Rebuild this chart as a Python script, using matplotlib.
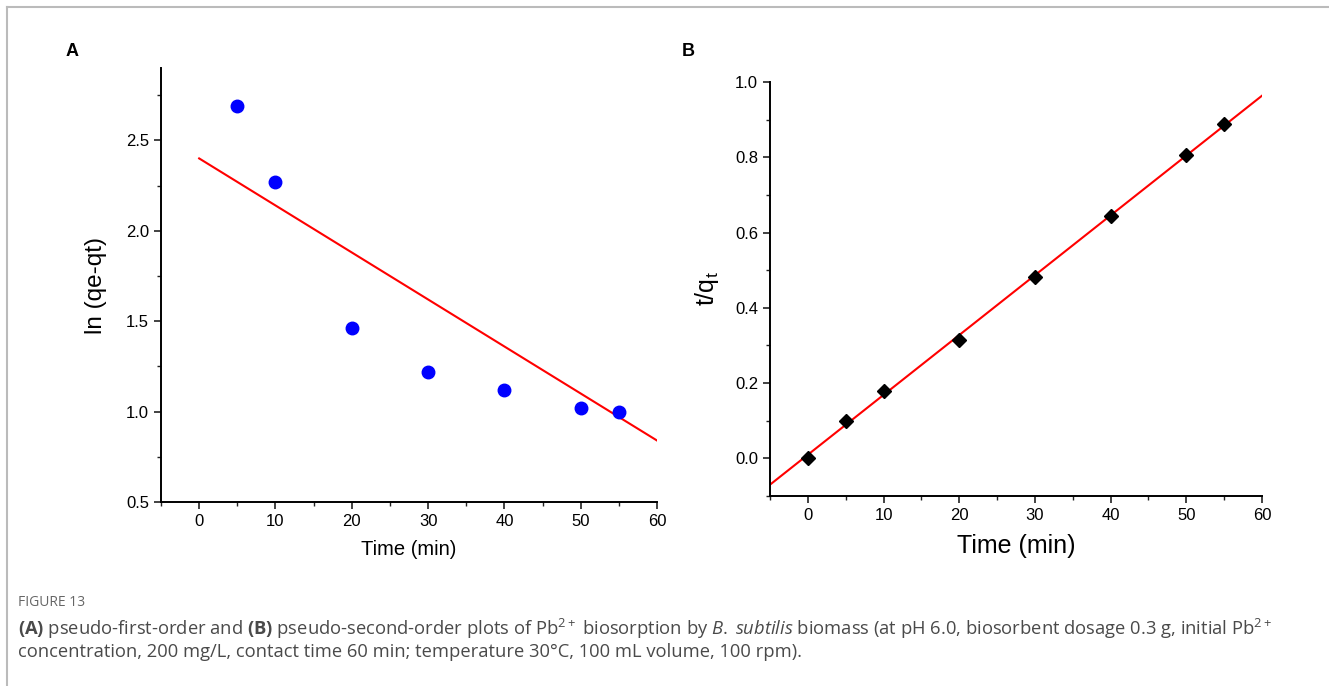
import numpy as np
import matplotlib
matplotlib.use('Agg')
import matplotlib.pyplot as plt
from matplotlib.ticker import MultipleLocator
from matplotlib.lines import Line2D

plt.rcParams['font.family'] = ['Liberation Sans', 'DejaVu Sans']
plt.rcParams['mathtext.fontset'] = 'custom'
plt.rcParams['mathtext.rm'] = 'Open Sans'
plt.rcParams['mathtext.it'] = 'Open Sans:italic'
plt.rcParams['mathtext.bf'] = 'Open Sans:bold'

# panel A: pseudo-first-order
time_a = [5, 10, 20, 30, 40, 50, 55]
ln_qe_qt = [2.69, 2.27, 1.46, 1.22, 1.12, 1.02, 1.00]
fit_a_intercept = 2.40
fit_a_slope = -0.026
fit_a_range = [0, 60]

# panel B: pseudo-second-order
time_b = [0, 5, 10, 20, 30, 40, 50, 55]
t_qt = [0.0, 0.10, 0.18, 0.315, 0.483, 0.645, 0.807, 0.888]
fit_b_intercept = 0.0096
fit_b_slope = 0.0159
fit_b_range = [-5, 60]

x_ticks = [0, 10, 20, 30, 40, 50, 60]

fig = plt.figure(figsize=(13.29, 6.86), dpi=100)

# thin grey frame on top and left
fig.add_artist(Line2D([7/1329, 1], [1-7/686, 1-7/686], color='#bbbbbb', lw=1.5, transform=fig.transFigure))
fig.add_artist(Line2D([7/1329, 7/1329], [0, 1-7/686], color='#bbbbbb', lw=1.5, transform=fig.transFigure))

def style_axes(ax, tsize):
    for s in ['top', 'right']:
        ax.spines[s].set_visible(False)
    for s in ['left', 'bottom']:
        ax.spines[s].set_linewidth(1.4)
    ax.tick_params(which='major', direction='out', length=5, width=1.2, labelsize=tsize, color='#222222')
    ax.tick_params(which='minor', direction='out', length=3, width=1.0, color='#222222')
    ax.set_xticks(x_ticks)
    ax.xaxis.set_minor_locator(MultipleLocator(5))

# ----- A -----
axA = fig.add_axes([161/1329, 1-502/686, (657-161)/1329, (502-68)/686])
style_axes(axA, 12)
xa = np.array(fit_a_range)
axA.plot(xa, fit_a_intercept + fit_a_slope*xa, color='#ff0000', lw=1.5, zorder=2)
axA.plot(time_a, ln_qe_qt, 'o', color='#0000ff', ms=9, zorder=3)
axA.set_xlim(-5, 60)
axA.set_ylim(0.5, 2.9)
axA.set_yticks([0.5, 1.0, 1.5, 2.0, 2.5])
axA.yaxis.set_minor_locator(MultipleLocator(0.25))
axA.set_xlabel('Time (min)', fontsize=14.5, labelpad=8)
axA.set_ylabel('ln (qe-qt)', fontsize=17.5, labelpad=14)
fig.text(72/1329, 1-52/686, 'A', fontsize=13, fontweight='bold', ha='center', va='center')

# ----- B -----
axB = fig.add_axes([770/1329, 1-496/686, (1262-770)/1329, (496-82)/686])
style_axes(axB, 12)
xb = np.array(fit_b_range)
axB.plot(xb, fit_b_intercept + fit_b_slope*xb, color='#ff0000', lw=1.5, zorder=2)
axB.plot(time_b, t_qt, 'D', color='black', ms=7.5, zorder=3)
axB.set_xlim(-5, 60)
axB.set_ylim(-0.1, 1.0)
axB.set_yticks([0.0, 0.2, 0.4, 0.6, 0.8, 1.0])
axB.yaxis.set_minor_locator(MultipleLocator(0.1))
axB.set_xlabel('Time (min)', fontsize=18, labelpad=8)
axB.set_ylabel(r't/q$_\mathregular{t}$', fontsize=18, labelpad=10)
fig.text(688/1329, 1-52/686, 'B', fontsize=13, fontweight='bold', ha='center', va='center')

# caption
fig.text(18/1329, 1-602/686, 'FIGURE 13', fontsize=10, color='#666666', family='Open Sans', va='center')
cap1 = (r'$\mathbf{(A)}$ pseudo-first-order and $\mathbf{(B)}$ pseudo-second-order plots of Pb$^{2+}$ '
        r'biosorption by $\mathit{B.}$ $\mathit{subtilis}$ biomass (at pH 6.0, biosorbent dosage 0.3 g, initial Pb$^{2+}$')
cap2 = 'concentration, 200 mg/L, contact time 60 min; temperature 30°C, 100 mL volume, 100 rpm).'
fig.text(18/1329, 1-629/686, cap1, fontsize=13.2, color='#4a4a4a', family='Open Sans', va='center')
fig.text(18/1329, 1-652/686, cap2, fontsize=13.2, color='#4a4a4a', family='Open Sans', va='center')

fig.savefig('out.png', dpi=100)
